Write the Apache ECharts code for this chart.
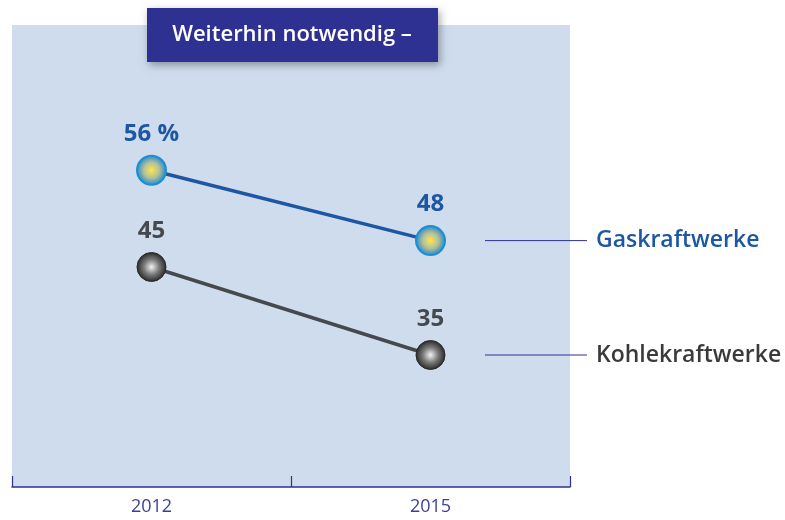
<!DOCTYPE html>
<html>
<head>
<meta charset="utf-8">
<script src="https://cdn.jsdelivr.net/npm/echarts@6/dist/echarts.min.js"></script>
<style>
html,body{margin:0;padding:0;background:#fff;}
#chart{width:785px;height:520px;}
</style>
</head>
<body>
<div id="chart"></div>
<script>
/* daten */
const years=["2012","2015"];
const gas=[56,48];
const kohle=[45,35];
const seriesNames=["Gaskraftwerke","Kohlekraftwerke"];
const titleText="Weiterhin notwendig –";

const FONT="'Open Sans', 'DejaVu Sans', sans-serif";
const BLUE="#1d56a3";
const GREY="#45494e";
const NAVY="#2e3192";

let chart=echarts.init(document.getElementById("chart"));

function ball(inner,mid,outer){
return {
type:"radial",x:0.5,y:0.5,r:0.5,
colorStops:[
{offset:0,color:inner},
{offset:0.5,color:mid},
{offset:1,color:outer}
]
};
}

chart.setOption({
animation:false,
grid:{
left:12,right:215,top:25,bottom:33,
show:true,
backgroundColor:"#cfdcee",
borderWidth:0
},
xAxis:{
type:"category",
data:years,
boundaryGap:true,
axisLine:{lineStyle:{color:NAVY,width:1.5}},
axisTick:{show:true,inside:true,length:11,alignWithLabel:false,lineStyle:{color:NAVY,width:1.2}},
axisLabel:{color:"#3b3f98",fontSize:18,fontFamily:FONT,margin:11}
},
yAxis:{
type:"value",
min:20,max:72.5,
show:false
},
series:[
{
name:seriesNames[0],
type:"line",
data:gas,
symbol:"circle",
symbolSize:29,
lineStyle:{color:BLUE,width:3.5},
itemStyle:{
color:ball("#ffe64a","#b4c09a","#1786d0"),
borderColor:"#1a8fd6",borderWidth:2
},
label:{
show:true,position:"top",distance:9,
color:BLUE,fontSize:24,fontWeight:"bold",fontFamily:FONT,
formatter:p=>p.dataIndex==0?p.value+" %":p.value
},
z:3
},
{
name:seriesNames[1],
type:"line",
data:kohle,
symbol:"circle",
symbolSize:29,
lineStyle:{color:GREY,width:3.5},
itemStyle:{
color:ball("#f2f2f2","#7c7c7c","#262626"),
borderColor:"#2a2a2a",borderWidth:1
},
label:{
show:true,position:"top",distance:9,
color:GREY,fontSize:24,fontWeight:"bold",fontFamily:FONT
},
z:3
}
]
});

/* titelkasten + beschriftung rechts */
let g=[
{
type:"rect",
shape:{x:147,y:8,width:291,height:54},
style:{fill:"#2e3192",shadowBlur:8,shadowOffsetX:2,shadowOffsetY:3,shadowColor:"rgba(0,0,0,0.35)"},
z:10
},
{
type:"text",
x:292,y:35,
style:{text:titleText,fill:"#fff",font:"600 22px "+FONT,align:"center",verticalAlign:"middle"},
z:11
}
];

[gas,kohle].forEach((s,i)=>{
let p=chart.convertToPixel({xAxisIndex:0,yAxisIndex:0},[1,s[1]]);
g.push({
type:"line",
shape:{x1:485,y1:p[1],x2:587,y2:p[1]},
style:{stroke:NAVY,lineWidth:1},
z:5
});
g.push({
type:"text",
x:596,y:p[1],
style:{
text:seriesNames[i],
fill:i==0?BLUE:"#3a3a3a",
font:"600 23px "+FONT,
verticalAlign:"middle"
},
z:5
});
});

chart.setOption({graphic:g});
</script>
</body>
</html>
